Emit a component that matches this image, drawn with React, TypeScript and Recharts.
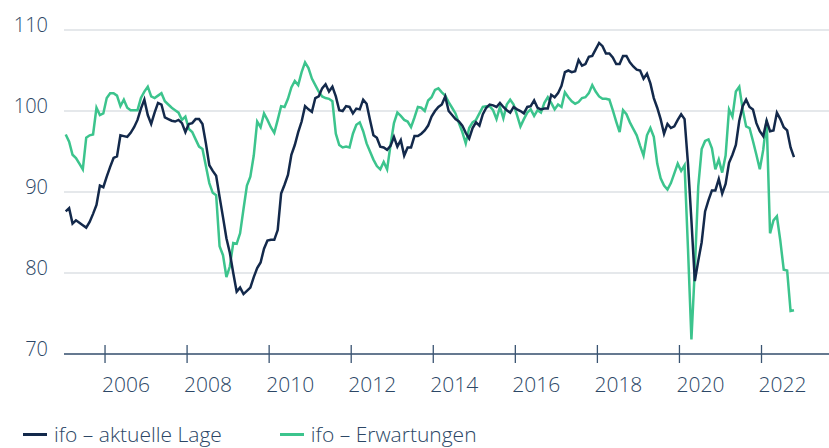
import { CartesianGrid, Line, LineChart, XAxis, YAxis } from 'recharts'

// monthly values, Jan 2005 – Oct 2022
const START_YEAR = 2005

const LAGE = [
  87.6, 88.0, 86.1, 86.5, 86.2, 85.9, 85.6, 86.3, 87.3, 88.4, 90.8, 90.6,
  91.9, 93.1, 94.2, 94.4, 97.0, 96.9, 96.8, 97.3, 98.0, 98.9, 100.3, 101.4,
  99.5, 98.4, 99.8, 101.0, 100.8, 99.2, 99.0, 98.8, 98.7, 98.9, 98.5, 97.4,
  98.4, 98.5, 99.0, 99.0, 98.4, 96.0, 93.3, 92.6, 92.0, 89.4, 86.9, 84.3,
  82.5, 80.0, 77.7, 78.2, 77.4, 77.8, 78.2, 79.5, 80.6, 81.3, 83.0, 84.0,
  84.1, 84.1, 85.3, 89.8, 90.9, 92.1, 94.6, 95.8, 97.4, 98.7, 100.6, 100.2,
  99.9, 101.6, 101.8, 102.8, 103.3, 102.4, 103.0, 101.8, 100.1, 100.0, 100.6, 100.5,
  99.7, 100.3, 100.2, 101.4, 100.9, 98.9, 97.0, 96.7, 95.6, 95.5, 95.2, 95.7,
  96.8, 95.6, 96.4, 94.5, 95.5, 95.5, 96.9, 96.9, 97.2, 97.6, 98.2, 99.3,
  100.0, 100.5, 100.8, 101.8, 100.0, 99.5, 99.0, 98.7, 98.2, 97.3, 96.6, 97.9,
  98.6, 98.2, 99.6, 100.4, 100.8, 100.7, 100.5, 101.0, 100.5, 100.1, 99.8, 100.5,
  100.2, 100.0, 99.7, 100.5, 100.6, 101.3, 100.4, 100.2, 100.3, 100.3, 102.0, 101.7,
  102.2, 103.1, 104.8, 105.0, 104.8, 104.9, 106.3, 105.6, 105.8, 106.7, 106.8, 107.6,
  108.4, 108.0, 107.1, 107.1, 106.6, 105.8, 105.8, 106.8, 106.8, 106.0, 105.5, 105.1,
  105.0, 104.0, 104.6, 103.4, 101.6, 100.4, 99.0, 97.2, 98.4, 97.9, 98.1, 98.9,
  99.6, 99.0, 93.5, 86.5, 79.0, 81.5, 83.8, 87.6, 89.0, 90.2, 90.2, 91.6,
  89.8, 91.0, 93.6, 94.6, 95.8, 98.8, 100.6, 101.4, 100.5, 100.2, 98.5, 97.5,
  96.9, 98.8, 97.5, 97.6, 99.8, 99.0, 98.0, 97.6, 95.5, 94.3,
]

const ERWARTUNGEN = [
  97.1, 96.2, 94.6, 94.2, 93.5, 92.8, 96.7, 97.0, 97.1, 100.4, 99.5, 99.7,
  101.6, 102.2, 102.2, 101.9, 100.6, 101.4, 100.4, 100.1, 100.1, 100.1, 101.6, 102.4,
  103.0, 101.8, 101.6, 101.9, 102.2, 101.2, 100.8, 100.4, 100.1, 99.8, 98.9, 99.3,
  97.8, 97.4, 96.5, 95.6, 95.3, 93.2, 91.1, 89.9, 89.6, 83.3, 82.2, 79.5,
  80.8, 83.7, 83.6, 84.9, 87.9, 90.8, 91.9, 94.5, 98.7, 98.0, 99.7, 98.9,
  98.0, 97.3, 98.9, 100.6, 100.5, 101.5, 102.9, 103.7, 103.2, 104.8, 106.0, 105.3,
  104.0, 103.2, 102.4, 101.8, 101.6, 101.5, 101.2, 97.2, 95.8, 95.5, 95.6, 95.5,
  97.2, 98.3, 98.6, 97.5, 96.0, 95.0, 94.0, 93.2, 92.8, 93.7, 92.8, 95.8,
  98.5, 99.8, 99.4, 98.9, 98.7, 98.0, 99.2, 100.5, 100.4, 100.0, 101.3, 101.7,
  102.6, 102.8, 102.3, 101.9, 101.1, 100.4, 99.7, 98.5, 97.4, 96.0, 97.9, 98.6,
  98.9, 99.7, 100.5, 100.6, 100.6, 100.1, 99.0, 100.5, 99.1, 100.8, 101.4, 100.8,
  99.5, 98.1, 99.0, 99.8, 100.2, 99.4, 100.1, 99.8, 101.0, 101.7, 101.0, 100.2,
  100.8, 100.5, 102.3, 101.7, 101.2, 100.9, 101.1, 101.6, 101.7, 102.2, 103.2, 102.4,
  101.8, 101.5, 101.5, 101.4, 100.1, 98.7, 97.4, 100.1, 99.6, 98.6, 97.8, 97.0,
  95.7, 94.5, 97.0, 97.9, 96.8, 93.5, 91.7, 90.8, 90.3, 91.1, 92.3, 93.5,
  92.6, 93.3, 83.0, 71.8, 80.5, 90.7, 95.3, 96.3, 96.5, 95.4, 92.8, 94.0,
  92.4, 94.5, 100.2, 99.3, 102.4, 103.0, 100.2, 98.1, 97.9, 96.3, 94.6, 92.8,
  95.2, 98.9, 84.9, 86.5, 87.0, 84.0, 80.4, 80.3, 75.3, 75.4,
]

const YEAR_TICKS = [2006, 2008, 2010, 2012, 2014, 2016, 2018, 2020, 2022]
const VALUE_TICKS = [70, 80, 90, 100, 110]

const NAVY = '#13294b'
const GREEN = '#3cc48d'
const TEXT = '#2c4766'
const FONT = '"Open Sans", sans-serif'

// each month sits in the middle of its slot on the time axis
const data = LAGE.map((v, i) => ({
  t: START_YEAR + (i + 0.5) / 12,
  lage: v,
  erw: ERWARTUNGEN[i],
}))

function YearTick({ x, y, payload }: any) {
  return (
    <g>
      <line x1={x} x2={x} y1={y - 9} y2={y + 9} stroke="#3a5472" strokeWidth={1.3} />
      <text x={x + 21} y={y + 38} textAnchor="middle" fill={TEXT} fontSize={21} fontWeight={300} fontFamily={FONT}>
        {payload.value}
      </text>
    </g>
  )
}

function ValueTick({ x, y, payload }: any) {
  return (
    <text x={x - 16} y={y + 2} textAnchor="end" fill={TEXT} fontSize={20} fontWeight={300} fontFamily={FONT}>
      {payload.value}
    </text>
  )
}

const LEGEND = [
  { label: 'ifo – aktuelle Lage', color: NAVY },
  { label: 'ifo – Erwartungen', color: GREEN },
]

export default function App() {
  return (
    <div style={{ position: 'absolute', left: 0, top: 0, width: 829, height: 448, background: '#fff', overflow: 'hidden' }}>
      <LineChart width={829} height={448} data={data} margin={{ top: 30, right: 0, bottom: 0, left: 0 }}>
        <CartesianGrid vertical={false} stroke="#dce0e5" strokeWidth={1.5} />
        <XAxis
          dataKey="t"
          type="number"
          domain={[2005, 2023.645]}
          ticks={YEAR_TICKS}
          interval={0}
          height={94}
          tickSize={0}
          tickMargin={0}
          tickLine={false}
          axisLine={{ stroke: '#3a5472', strokeWidth: 1.3 }}
          tick={<YearTick />}
        />
        <YAxis
          domain={[70, 110]}
          ticks={VALUE_TICKS}
          width={64}
          tickSize={0}
          tickMargin={0}
          axisLine={false}
          tickLine={false}
          tick={<ValueTick />}
        />
        <Line type="linear" dataKey="erw" stroke={GREEN} strokeWidth={2.5} dot={false} isAnimationActive={false} />
        <Line type="linear" dataKey="lage" stroke={NAVY} strokeWidth={2.5} dot={false} isAnimationActive={false} />
      </LineChart>
      <div
        style={{
          position: 'absolute',
          left: 23,
          top: 421,
          display: 'flex',
          fontFamily: FONT,
          fontWeight: 300,
          fontSize: 21,
          lineHeight: '26px',
          color: TEXT,
        }}
      >
        {LEGEND.map((it, i) => (
          <div key={it.label} style={{ display: 'flex', alignItems: 'center', marginRight: i === 0 ? 58 : 0 }}>
            <span style={{ display: 'inline-block', width: 24, height: 3, background: it.color, marginRight: 7 }} />
            <span>{it.label}</span>
          </div>
        ))}
      </div>
    </div>
  )
}
